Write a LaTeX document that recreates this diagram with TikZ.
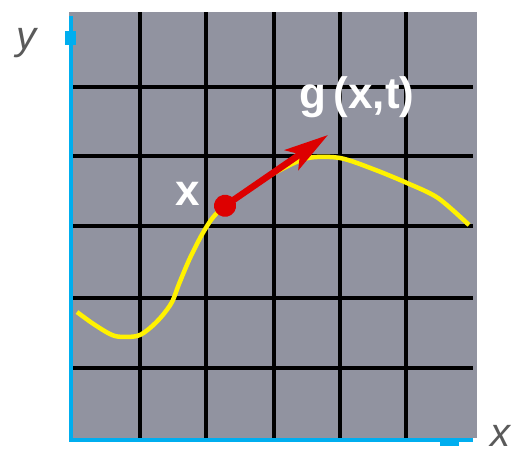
\documentclass[tikz,border=0pt]{standalone}
\usepackage{fontspec}
\setmainfont{Liberation Sans}
\usetikzlibrary{arrows.meta}
\definecolor{panel}{RGB}{145,147,160}
\definecolor{axisblue}{RGB}{0,174,239}
\definecolor{curveyellow}{RGB}{255,242,0}
\definecolor{arrowred}{RGB}{221,0,0}
\definecolor{labelgray}{RGB}{90,90,90}
\tikzset{
  gridline/.style={black, line width=4pt},
  axisline/.style={axisblue, line width=4pt},
  curve/.style={curveyellow, line width=4.5pt, line join=round},
  vecarrow/.style={arrowred, line width=6.5pt, {Circle[length=22pt,width=22pt]}-{Stealth[length=44pt,width=24pt,inset=10pt]}},
  ptlabel/.style={text=white, font=\bfseries\fontsize{44}{44}\selectfont, inner sep=0pt, anchor=base},
  axlabel/.style={text=labelgray, font=\itshape\fontsize{40}{40}\selectfont, inner sep=0pt, anchor=base west}
}
\begin{document}
\begin{tikzpicture}[x=1pt,y=-1pt]
\useasboundingbox (0,0) rectangle (519,456);
% panel
\fill[panel] (69,12) rectangle (477,438);
% grid
\foreach \gx in {140,205.5,274,340,406}
  \draw[gridline] (\gx,12) -- (\gx,438);
\foreach \gy in {87,156,226,298,367.5}
  \draw[gridline] (72,\gy) -- (473,\gy);
% axes
\draw[axisline] (70.5,16) -- (70.5,440) -- (473,440);
\fill[axisblue] (65,31) rectangle (76,45);
\fill[axisblue] (440,438) rectangle (459,446);
% curve
\draw[curve] plot[smooth, tension=0.5] coordinates {
  (77,312) (95,325) (115,336) (137,336) (150,328) (162,316) (172,302)
  (179,284) (190,258) (204,231) (218,212) (250,188) (280,170) (308,158)
  (340,158) (373,169) (407,183) (438,198) (469,225)};
% vector
\coordinate (vstart) at (216,212);
\coordinate (vend) at (328,135);
\draw[vecarrow] (vstart) -- (vend);
% labels
\node[ptlabel] (xlab) at (188,205) {x};
\node[ptlabel] (glab) at (357,108) {g\,(x,t)};
\node[axlabel] (ylab) at (16,49) {y};
\node[axlabel] (xaxlab) at (490,446) {x};
\end{tikzpicture}
\end{document}
